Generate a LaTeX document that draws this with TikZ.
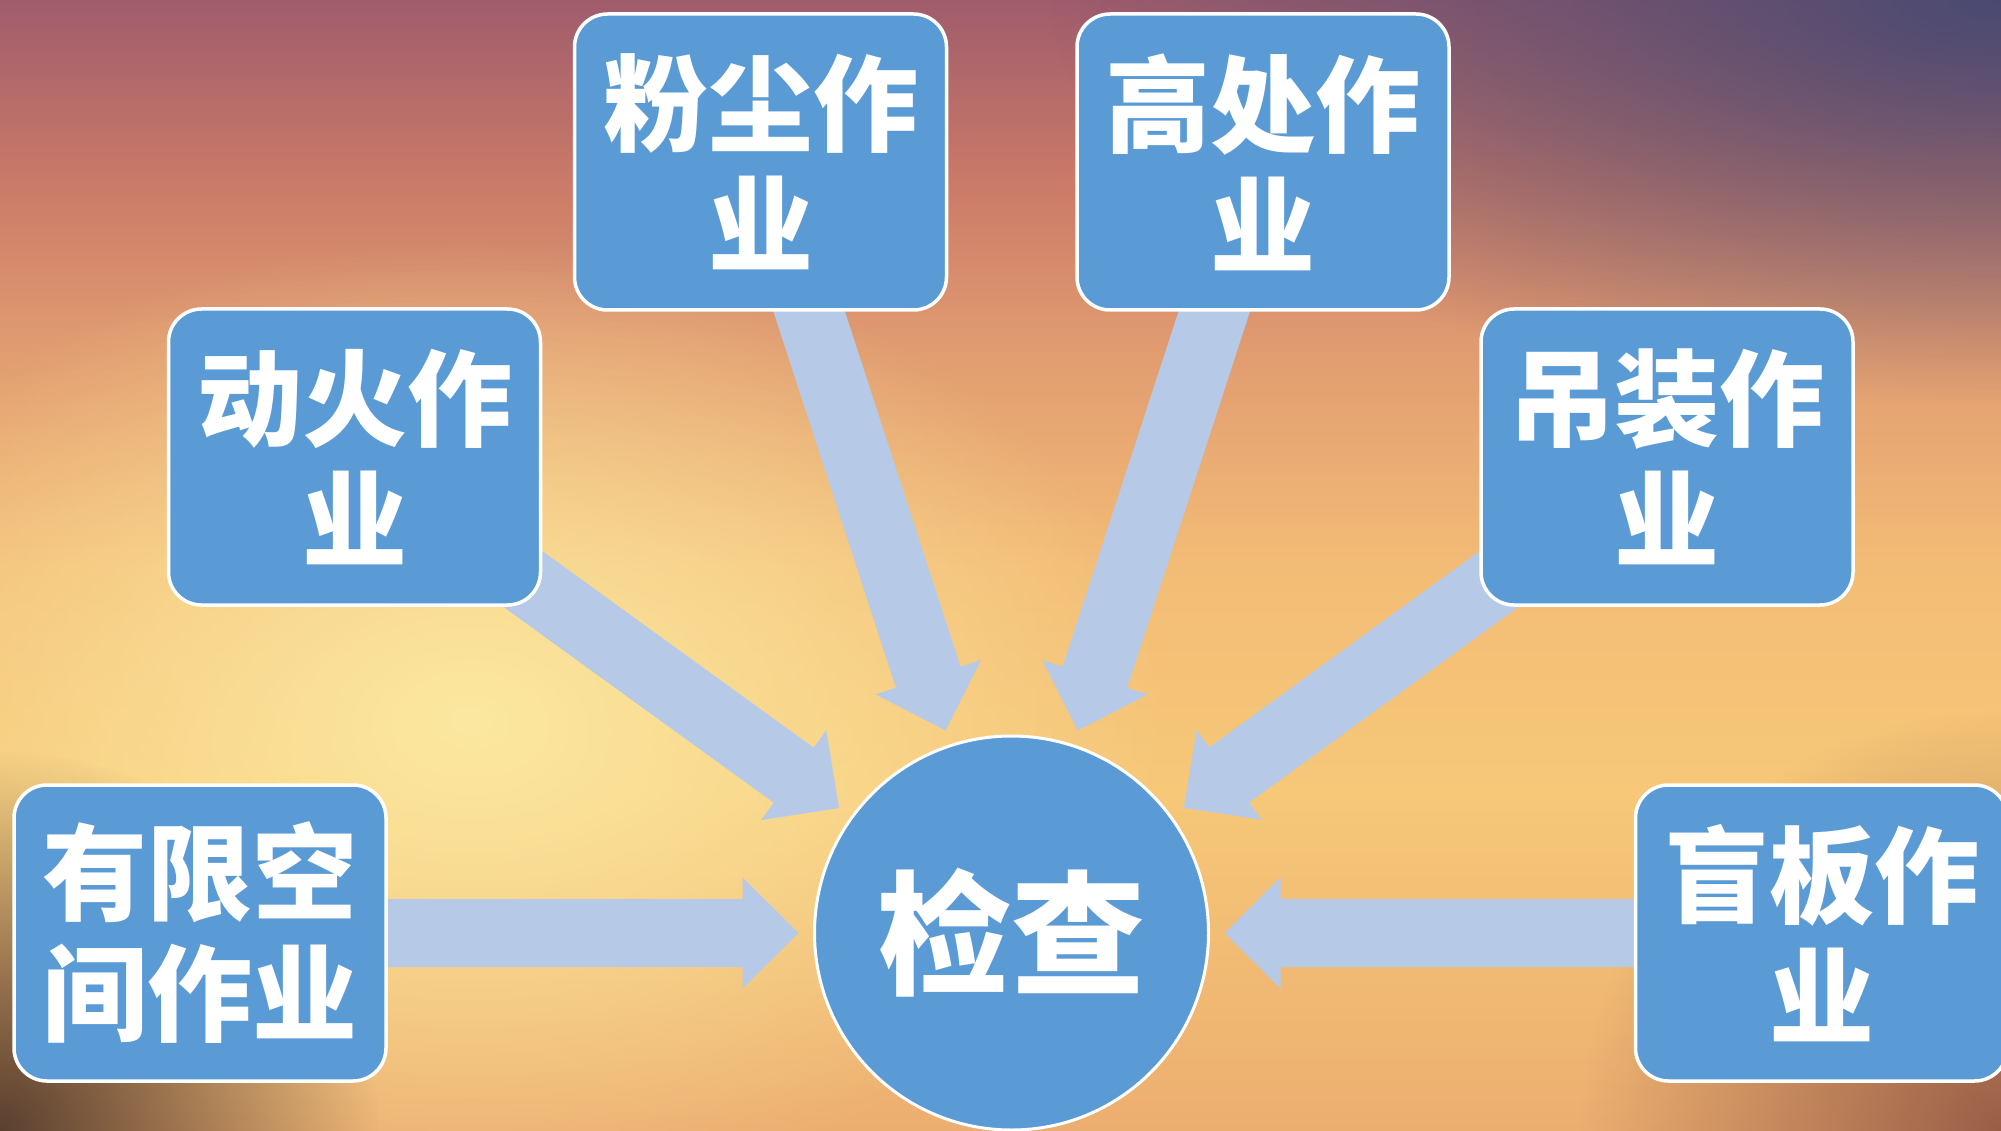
\documentclass[tikz,border=0pt]{standalone}
\usepackage{fontspec}
\newfontfamily\cjk{Noto Sans CJK SC}
\usetikzlibrary{calc,fadings}
\tikzfading[name=softglow, inner color=transparent!0, outer color=transparent!100]
\pgfdeclarelayer{bg}
\pgfdeclarelayer{arr}
\pgfsetlayers{bg,arr,main}
\definecolor{boxblue}{HTML}{5B9BD5}
\definecolor{arrowblue}{HTML}{B6CAE7}
\definecolor{sA}{HTML}{ECAE70}
\definecolor{sB}{HTML}{F6C878}
\definecolor{sC}{HTML}{F3BC76}
\definecolor{sD}{HTML}{E09A70}
\definecolor{sE}{HTML}{C87868}
\definecolor{sF}{HTML}{A05C6C}
\definecolor{glowc}{HTML}{FCE8A0}
\definecolor{purplec}{HTML}{4A4A72}
\definecolor{brownbl}{HTML}{5A4030}
\definecolor{brownbr}{HTML}{9A5E48}
\pgfdeclareverticalshading{bgshade}{100bp}{color(0bp)=(sA); color(25bp)=(sA); color(40bp)=(sB); color(50bp)=(sC); color(60bp)=(sD); color(67.5bp)=(sE); color(75bp)=(sF); color(100bp)=(sF)}
\tikzset{
  taskbox/.style={draw=white, line width=3.5pt, fill=boxblue, rounded corners=33pt,
    minimum width=372pt, minimum height=296pt, inner sep=0pt, text=white,
    font=\cjk\bfseries\fontsize{105}{121}\selectfont, align=center},
  hub/.style={circle, draw=white, line width=3pt, fill=boxblue, minimum size=394pt,
    inner sep=0pt, text=white, font=\cjk\bfseries\fontsize{134}{140}\selectfont},
  blockfill/.style={fill=arrowblue}
}
\newcommand\blockarrow[2]{%
  \coordinate (ba-t) at ($(#2.center)!213pt!(#1.center)$);
  \coordinate (ba-b) at ($(#2.center)!269pt!(#1.center)$);
  \coordinate (ba-e) at (#1.center);
  \fill[blockfill] (ba-t) -- ($(ba-b)!55.5pt!90:(ba-e)$) -- ($(ba-b)!34pt!90:(ba-e)$)
    -- ($(ba-e)!34pt!-90:(ba-b)$) -- ($(ba-e)!34pt!90:(ba-b)$)
    -- ($(ba-b)!34pt!-90:(ba-e)$) -- ($(ba-b)!55.5pt!-90:(ba-e)$) -- cycle;}
\begin{document}
\begin{tikzpicture}[x=1pt,y=-1pt]
\useasboundingbox (0,0) rectangle (2001,1131);
\clip (0,0) rectangle (2001,1131);
% nodes
\node[taskbox] (fc) at (760.5,162) {粉尘作\\业};
\node[taskbox] (gc) at (1263,162) {高处作\\业};
\node[taskbox] (dh) at (354.5,457) {动火作\\业};
\node[taskbox] (dz) at (1667,457) {吊装作\\业};
\node[taskbox] (yx) at (200,933) {有限空\\间作业};
\node[taskbox] (mb) at (1821.5,933) {盲板作\\业};
\node[hub] (jc) at (1011.5,933) {检查};
% arrows
\begin{pgfonlayer}{arr}
\blockarrow{fc}{jc}
\blockarrow{gc}{jc}
\blockarrow{dh}{jc}
\blockarrow{dz}{jc}
\blockarrow{yx}{jc}
\blockarrow{mb}{jc}
\end{pgfonlayer}
% background
\begin{pgfonlayer}{bg}
\shade[shading=bgshade] (0,0) rectangle (2001,1131);
\fill[glowc, path fading=softglow] (470,720) ellipse [x radius=700, y radius=480];
\fill[purplec, path fading=softglow] (2001,0) ellipse [x radius=950, y radius=400];
\fill[brownbl, path fading=softglow] (0,1131) circle [radius=380];
\fill[brownbr, path fading=softglow] (2001,1131) circle [radius=420];
\end{pgfonlayer}
\end{tikzpicture}
\end{document}
